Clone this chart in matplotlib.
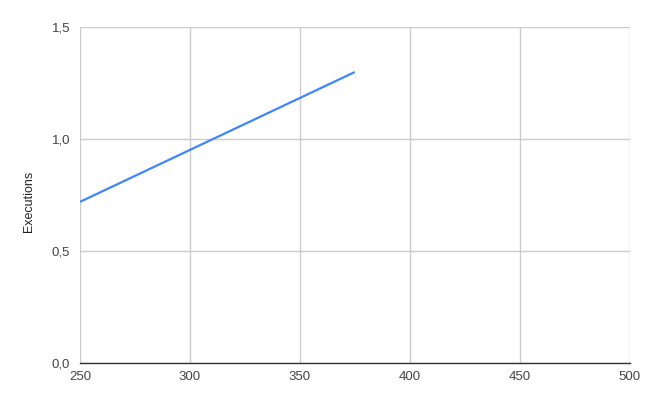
import matplotlib
matplotlib.use("Agg")
import matplotlib.pyplot as plt
from matplotlib.ticker import FuncFormatter

# data
x_vals = [250, 375]
executions = [0.72, 1.30]
x_ticks = [250, 300, 350, 400, 450, 500]
y_ticks = [0.0, 0.5, 1.0, 1.5]

plt.rcParams['font.family'] = ['Liberation Sans', 'DejaVu Sans']

fig = plt.figure(figsize=(6.52, 4.04), dpi=100)
W, H = 652, 404
ax = fig.add_axes([80 / W, (H - 363) / H, (629.5 - 80) / W, (363 - 27.3) / H])

ax.plot(x_vals, executions, color='#4285F4', linewidth=1.6, solid_capstyle='butt')

ax.set_xlim(250, 500)
ax.set_ylim(0, 1.5)
ax.set_xticks(x_ticks)
ax.set_yticks(y_ticks)
ax.yaxis.set_major_formatter(FuncFormatter(lambda v, p: f"{v:.1f}".replace('.', ',')))

ax.grid(True, color='#cccccc', linewidth=1)
ax.set_axisbelow(True)
for side in ['top', 'right', 'left']:
    ax.spines[side].set_visible(False)
ax.spines['bottom'].set_color('#333333')
ax.spines['bottom'].set_linewidth(1)
ax.tick_params(length=0, labelsize=9.5, colors='#444444')
ax.tick_params(axis='x', pad=6)
ax.tick_params(axis='y', pad=7)

ax.set_ylabel('Executions', fontsize=9, color='#222222')
ax.yaxis.set_label_coords(-0.082, 0.481)

fig.savefig('out.png', dpi=100, facecolor='white')
